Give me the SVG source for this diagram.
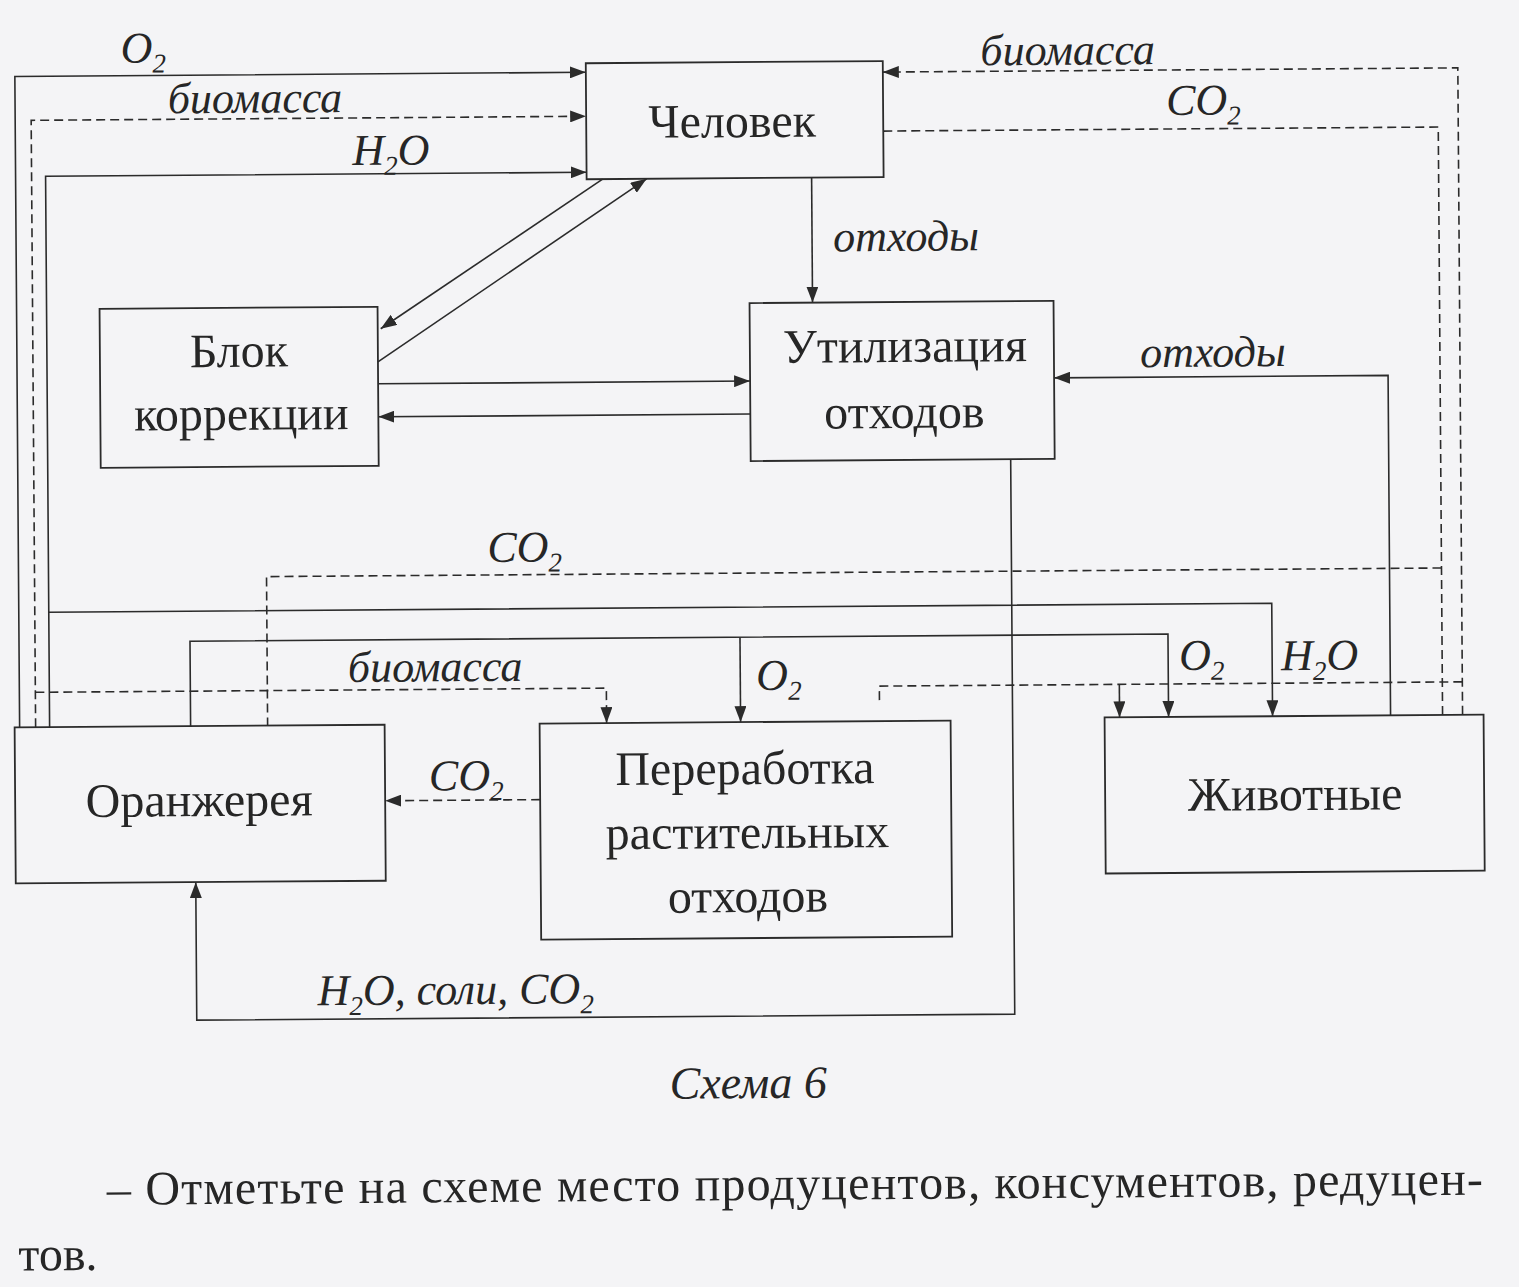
<svg xmlns="http://www.w3.org/2000/svg" width="1519" height="1287" viewBox="0 0 1519 1287">
<defs>
<style>
.box{fill:none;stroke:#2b2b2b;stroke-width:1.8}
.ln{fill:none;stroke:#2b2b2b;stroke-width:1.6}
.ds{fill:none;stroke:#2b2b2b;stroke-width:1.6;stroke-dasharray:9 5}
.nt{font-family:"Liberation Serif","Times New Roman",serif;font-size:48px;fill:#262626;text-anchor:middle}
.lb{font-family:"Liberation Serif","Times New Roman",serif;font-size:44px;font-style:italic;fill:#262626}
.sub{font-size:27px}
.cap{font-family:"Liberation Serif","Times New Roman",serif;font-size:46px;font-style:italic;fill:#262626;text-anchor:middle}
.body{font-family:"Liberation Serif","Times New Roman",serif;font-size:48px;fill:#262626}
</style>
<marker id="arr" viewBox="0 0 16 12" refX="16" refY="6" markerWidth="16" markerHeight="12" markerUnits="userSpaceOnUse" orient="auto">
<path d="M0,0 L16,6 L0,12 z" fill="#2b2b2b" stroke="none"/>
</marker>
</defs>
<rect x="0" y="0" width="1519" height="1287" fill="#f4f4f6"/>
<g transform="rotate(-0.42 760 640)">
<g id="connectors">
<path class="ln" d="M19,722 V71 H590" marker-end="url(#arr)"/>
<path class="ds" d="M35,722 V115 H590" marker-end="url(#arr)"/>
<path class="ln" d="M49,722 V171 H590" marker-end="url(#arr)"/>
<path class="ln" d="M606,178 L383,326" marker-end="url(#arr)"/>
<path class="ln" d="M380,359 L650,178" marker-end="url(#arr)"/>
<path class="ln" d="M380,381 H752" marker-end="url(#arr)"/>
<path class="ln" d="M752,414 H380" marker-end="url(#arr)"/>
<path class="ln" d="M815,178 V303" marker-end="url(#arr)"/>
<path class="ds" d="M1462,720 V73 H887" marker-end="url(#arr)"/>
<path class="ds" d="M887,132 H1442 V720"/>
<path class="ds" d="M1442,573 H267 V722"/>
<path class="ln" d="M49,607 H1272 V720" marker-end="url(#arr)"/>
<path class="ln" d="M190,722 V637 H1168 V720" marker-end="url(#arr)"/>
<path class="ln" d="M740,637 V722" marker-end="url(#arr)"/>
<path class="ds" d="M35,687 H606 V722" marker-end="url(#arr)"/>
<path class="ds" d="M1462,687 H879 V706"/>
<path class="ln" d="M1119,687 V720" marker-end="url(#arr)"/>
<path class="ln" d="M1390,720 V380 H1056" marker-end="url(#arr)"/>
<path class="ln" d="M1012,461 V1016 H194 V878" marker-end="url(#arr)"/>
<path class="ds" d="M539,798 H384" marker-end="url(#arr)"/>
<text class="lb" x="125" y="58">O<tspan class="sub" dy="10">2</tspan></text>
<text class="lb" x="259" y="109" text-anchor="middle">биомасса</text>
<text class="lb" x="356" y="162">H<tspan class="sub" dy="10">2</tspan><tspan dy="-10">O</tspan></text>
<text class="lb" x="1072" y="67" text-anchor="middle">биомасса</text>
<text class="lb" x="1170" y="118">CO<tspan class="sub" dy="10">2</tspan></text>
<text class="lb" x="909" y="252" text-anchor="middle">отходы</text>
<text class="lb" x="1215" y="370" text-anchor="middle">отходы</text>
<text class="lb" x="488" y="560">CO<tspan class="sub" dy="10">2</tspan></text>
<text class="lb" x="435" y="679" text-anchor="middle">биомасса</text>
<text class="lb" x="756" y="690">O<tspan class="sub" dy="10">2</tspan></text>
<text class="lb" x="1179" y="673">O<tspan class="sub" dy="10">2</tspan></text>
<text class="lb" x="1281" y="674">H<tspan class="sub" dy="10">2</tspan><tspan dy="-10">O</tspan></text>
<text class="lb" x="428" y="788">CO<tspan class="sub" dy="10">2</tspan></text>
<text class="lb" x="315" y="1002">H<tspan class="sub" dy="10">2</tspan><tspan dy="-10">O, соли, CO</tspan><tspan class="sub" dy="10">2</tspan></text>
</g>
<g id="node-chelovek">
<rect class="box" x="590" y="62" width="297" height="116"/>
<text class="nt" x="736" y="137">Человек</text>
</g>
<g id="node-blok">
<rect class="box" x="102" y="304" width="278" height="159"/>
<text class="nt" x="241" y="363">Блок</text>
<text class="nt" x="243" y="426">коррекции</text>
</g>
<g id="node-utilizaciya">
<rect class="box" x="752" y="303" width="304" height="158"/>
<text class="nt" x="907" y="363">Утилизация</text>
<text class="nt" x="906" y="429">отходов</text>
</g>
<g id="node-oranzhereya">
<rect class="box" x="14" y="722" width="370" height="156"/>
<text class="nt" x="198" y="812">Оранжерея</text>
</g>
<g id="node-pererabotka">
<rect class="box" x="539" y="722" width="411" height="216"/>
<text class="nt" x="744" y="784">Переработка</text>
<text class="nt" x="746" y="848">растительных</text>
<text class="nt" x="746" y="912">отходов</text>
</g>
<g id="node-zhivotnye">
<rect class="box" x="1104" y="720" width="379" height="156"/>
<text class="nt" x="1294" y="814">Животные</text>
</g>
<text class="cap" x="745" y="1098">Схема 6</text>
<text class="body" x="103" y="1200" textLength="1376" lengthAdjust="spacing">– Отметьте на схеме место продуцентов, консументов, редуцен-</text>
<text class="body" x="14" y="1265">тов.</text>
</g>
</svg>
